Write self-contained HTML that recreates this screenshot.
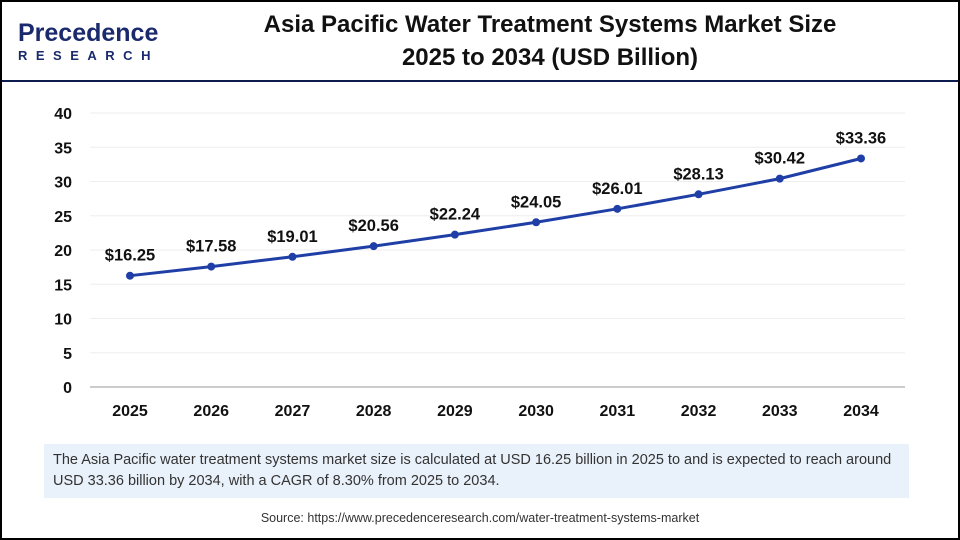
<!DOCTYPE html>
<html><head><meta charset="utf-8"><style>
body{margin:0;width:960px;height:540px;overflow:hidden;background:#fff;font-family:"Liberation Sans",sans-serif;}
#frame{position:absolute;left:0;top:0;width:956px;height:536px;border:2px solid #000;}
</style></head><body>
<div id="frame"></div>
<div style="position:absolute;left:18px;top:20px;">
<div style="font-size:25px;color:#1a2a6c;font-weight:bold;letter-spacing:0px;line-height:26px;">Precedence</div>
<div style="font-size:13px;color:#1a2a6c;font-weight:bold;letter-spacing:8.5px;margin-top:2px;">RESEARCH</div>
</div>
<div style="position:absolute;left:230px;top:8px;width:640px;text-align:center;font-size:24px;font-weight:bold;line-height:33px;color:#111;">Asia Pacific Water Treatment Systems Market Size<br>2025 to 2034 (USD Billion)</div>
<div style="position:absolute;left:2px;top:80px;width:956px;height:2px;background:#0d1b4f;"></div>
<svg id="chart" width="960" height="540" style="position:absolute;left:0;top:0"></svg>
<div style="position:absolute;left:44px;top:444px;width:865px;height:54px;background:#e9f1fa;padding:0 4px;font-size:14.5px;line-height:21px;color:#333;box-sizing:border-box;padding-top:6px;padding-left:9px;">The Asia Pacific water treatment systems market size is calculated at USD 16.25 billion in 2025 to and is expected to reach around USD 33.36 billion by 2034, with a CAGR of 8.30% from 2025 to 2034.</div>
<div style="position:absolute;left:0;top:511px;width:960px;text-align:center;font-size:12.5px;color:#333;">Source: https://www.precedenceresearch.com/water-treatment-systems-market</div>
<script>
const years=["2025","2026","2027","2028","2029","2030","2031","2032","2033","2034"];
const values=[16.25,17.58,19.01,20.56,22.24,24.05,26.01,28.13,30.42,33.36];
const yTicks=[0,5,10,15,20,25,30,35,40];
const svg=document.getElementById('chart');
const NS="http://www.w3.org/2000/svg";
const x=i=>130+i*(861-130)/(years.length-1);
const y=v=>387-v*(387-113)/40;
function mk(t,a){const e=document.createElementNS(NS,t);for(const k in a)e.setAttribute(k,a[k]);svg.appendChild(e);return e;}
yTicks.forEach(t=>{
 const g=mk('line',{x1:90,x2:905,y1:y(t),y2:y(t),stroke:t===0?'#bbb':'#eee','stroke-width':t===0?1.5:1});
 
 
 const l=mk('text',{x:72,y:y(t)+6,'text-anchor':'end','font-size':16,'font-weight':'bold',fill:'#111'});
 l.textContent=t;
 
 
});
years.forEach((yr,i)=>{
 const l=mk('text',{x:x(i),y:416,'text-anchor':'middle','font-size':16,'font-weight':'bold',fill:'#111'});
 l.textContent=yr;
 
 
});
const pl=mk('polyline',{points:values.map((v,i)=>x(i)+','+y(v)).join(' '),fill:'none',stroke:'#1f3fa6','stroke-width':3});


values.forEach((v,i)=>{
 const c=mk('circle',{cx:x(i),cy:y(v),r:4,fill:'#1f3fa6'});
 
 
 const t=mk('text',{x:x(i),y:y(v)-15,'text-anchor':'middle','font-size':16.5,'font-weight':'bold',fill:'#111'});
 t.textContent='$'+v.toFixed(2);
 
 
});
</script>
</body></html>
